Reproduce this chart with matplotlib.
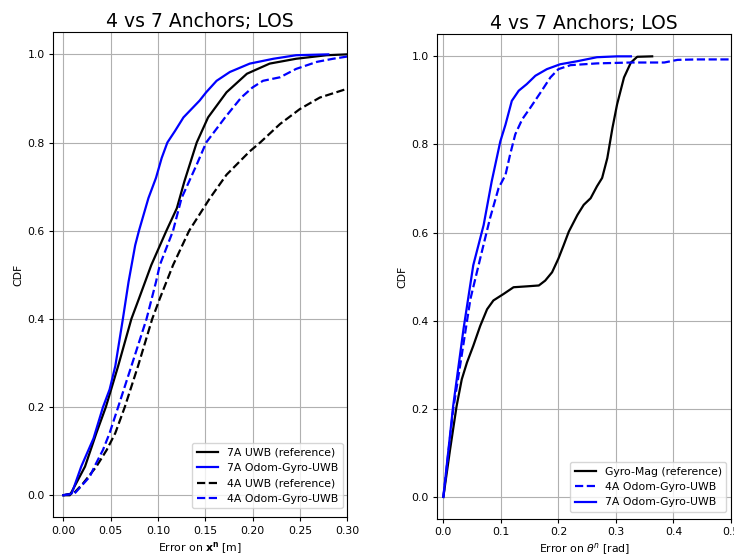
import matplotlib
matplotlib.use("Agg")
import matplotlib.pyplot as plt

# ---- Left: position error CDFs ----
uwb7_x = [0.0, 0.007, 0.023, 0.035, 0.045, 0.058, 0.072, 0.080, 0.093, 0.109, 0.120, 0.128, 0.141, 0.153, 0.1725, 0.194, 0.218, 0.246, 0.278, 0.30]
uwb7_y = [0.0, 0.0, 0.065, 0.141, 0.2, 0.293, 0.4, 0.446, 0.522, 0.6, 0.651, 0.712, 0.8, 0.857, 0.914, 0.956, 0.979, 0.99, 0.998, 1.0]

og7_x = [0.0, 0.009, 0.019, 0.032, 0.042, 0.049, 0.055, 0.063, 0.069, 0.076, 0.080, 0.090, 0.098, 0.104, 0.110, 0.118, 0.127, 0.144, 0.151, 0.162, 0.176, 0.197, 0.222, 0.246, 0.28]
og7_y = [0.0, 0.004, 0.065, 0.129, 0.2, 0.24, 0.293, 0.4, 0.484, 0.567, 0.6, 0.674, 0.72, 0.765, 0.8, 0.826, 0.857, 0.895, 0.914, 0.94, 0.96, 0.979, 0.99, 0.998, 1.0]

uwb4_x = [0.0, 0.011, 0.021, 0.035, 0.046, 0.055, 0.065, 0.079, 0.094, 0.102, 0.116, 0.133, 0.155, 0.1725, 0.197, 0.208, 0.229, 0.25, 0.271, 0.30]
uwb4_y = [0.0, 0.004, 0.027, 0.065, 0.103, 0.141, 0.2, 0.293, 0.4, 0.446, 0.522, 0.6, 0.674, 0.727, 0.78, 0.8, 0.842, 0.876, 0.902, 0.922]

og4_x = [0.0, 0.012, 0.028, 0.033, 0.042, 0.049, 0.058, 0.072, 0.088, 0.098, 0.102, 0.116, 0.125, 0.141, 0.151, 0.171, 0.188, 0.2, 0.211, 0.229, 0.246, 0.268, 0.285, 0.30]
og4_y = [0.0, 0.004, 0.042, 0.065, 0.103, 0.141, 0.2, 0.293, 0.4, 0.484, 0.522, 0.6, 0.674, 0.75, 0.8, 0.857, 0.902, 0.925, 0.94, 0.948, 0.967, 0.983, 0.99, 0.995]

# ---- Right: heading error CDFs ----
gm_x = [0.0, 0.0116, 0.023, 0.032, 0.041, 0.052, 0.064, 0.076, 0.087, 0.105, 0.122, 0.145, 0.166, 0.177, 0.189, 0.2, 0.209, 0.218, 0.233, 0.244, 0.256, 0.267, 0.276, 0.285, 0.294, 0.302, 0.314, 0.326, 0.337, 0.363]
gm_y = [0.0, 0.107, 0.206, 0.267, 0.305, 0.343, 0.388, 0.426, 0.446, 0.461, 0.476, 0.478, 0.48, 0.491, 0.51, 0.541, 0.571, 0.602, 0.64, 0.663, 0.678, 0.705, 0.724, 0.769, 0.838, 0.891, 0.952, 0.986, 0.999, 1.0]

h4_x = [0.0, 0.017, 0.029, 0.047, 0.064, 0.081, 0.096, 0.108, 0.116, 0.125, 0.137, 0.151, 0.169, 0.186, 0.2, 0.221, 0.267, 0.326, 0.384, 0.407, 0.442, 0.503]
h4_y = [0.0, 0.198, 0.297, 0.449, 0.541, 0.632, 0.701, 0.731, 0.777, 0.823, 0.857, 0.883, 0.918, 0.952, 0.971, 0.98, 0.984, 0.986, 0.986, 0.992, 0.993, 0.993]

h7_x = [0.0, 0.017, 0.035, 0.052, 0.07, 0.084, 0.099, 0.108, 0.119, 0.131, 0.145, 0.16, 0.18, 0.203, 0.233, 0.267, 0.302, 0.326]
h7_y = [0.0, 0.206, 0.381, 0.526, 0.617, 0.716, 0.807, 0.845, 0.899, 0.922, 0.937, 0.956, 0.971, 0.982, 0.989, 0.998, 1.0, 1.0]

fs = 7.8
plt.rcParams.update({
    'font.size': fs,
    'xtick.labelsize': fs,
    'ytick.labelsize': fs,
    'axes.labelsize': fs,
    'legend.fontsize': fs,
    'xtick.major.size': 3.0,
    'ytick.major.size': 3.0,
    'xtick.major.pad': 3.0,
    'ytick.major.pad': 3.0,
})

fig = plt.figure(figsize=(7.34, 5.57), dpi=100)
ax1 = fig.add_axes([0.0726, 0.0713, 0.4005, 0.8707])
ax2 = fig.add_axes([0.5958, 0.0682, 0.4001, 0.8702])

lw = 1.6
ax1.plot(uwb7_x, uwb7_y, color='k', lw=lw, label='7A UWB (reference)')
ax1.plot(og7_x, og7_y, color='b', lw=lw, label='7A Odom-Gyro-UWB')
ax1.plot(uwb4_x, uwb4_y, color='k', ls='--', lw=lw, label='4A UWB (reference)')
ax1.plot(og4_x, og4_y, color='b', ls='--', lw=lw, label='4A Odom-Gyro-UWB')
ax1.set_xlim(-0.0105, 0.30)
ax1.set_ylim(-0.05, 1.05)
ax1.set_xticks([0.0, 0.05, 0.10, 0.15, 0.20, 0.25, 0.30])
ax1.set_xticklabels(['0.00', '0.05', '0.10', '0.15', '0.20', '0.25', '0.30'])
ax1.set_yticks([0.0, 0.2, 0.4, 0.6, 0.8, 1.0])
ax1.grid(True)
ax1.set_title('4 vs 7 Anchors; LOS', fontsize=13.5, pad=4)
ax1.set_xlabel(r'Error on $\mathbf{x^n}$ [m]', labelpad=3)
ax1.set_ylabel('CDF', labelpad=3)
ax1.legend(loc='lower right', bbox_to_anchor=(0.984, 0.019), borderaxespad=0)

ax2.plot(gm_x, gm_y, color='k', lw=lw, label='Gyro-Mag (reference)')
ax2.plot(h4_x, h4_y, color='b', ls='--', lw=lw, label='4A Odom-Gyro-UWB')
ax2.plot(h7_x, h7_y, color='b', lw=lw, label='7A Odom-Gyro-UWB')
ax2.set_xlim(-0.0105, 0.5)
ax2.set_ylim(-0.05, 1.05)
ax2.set_xticks([0.0, 0.1, 0.2, 0.3, 0.4, 0.5])
ax2.set_yticks([0.0, 0.2, 0.4, 0.6, 0.8, 1.0])
ax2.grid(True)
ax2.set_title('4 vs 7 Anchors; LOS', fontsize=13.5, pad=4)
ax2.set_xlabel(r'Error on $\theta^n$ [rad]', labelpad=3)
ax2.set_ylabel('CDF', labelpad=3)
ax2.legend(loc='lower right', bbox_to_anchor=(0.984, 0.015), borderaxespad=0)

fig.savefig('out.png', dpi=100)
